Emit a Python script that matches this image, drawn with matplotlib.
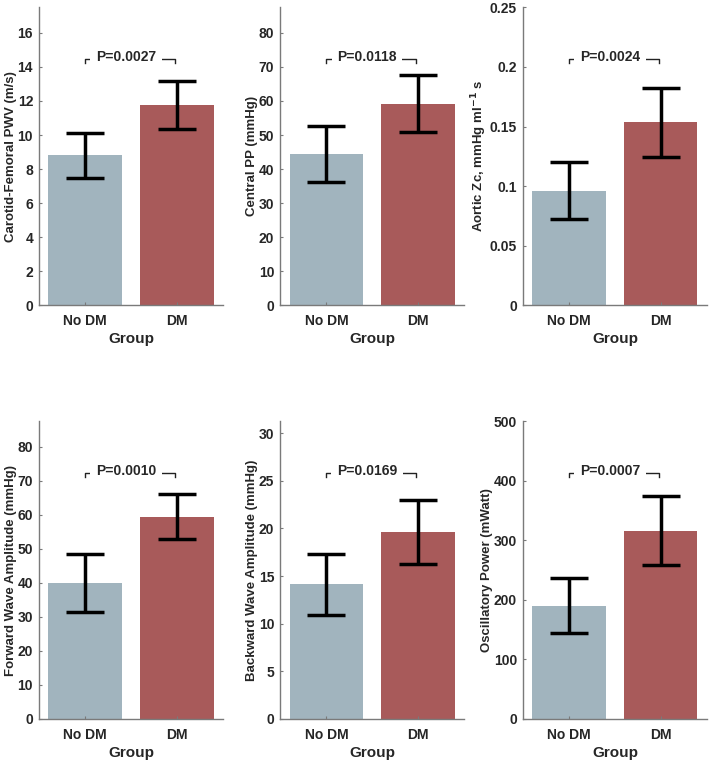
import numpy as np
import matplotlib.pyplot as plt

plt.rcParams['font.family'] = ['Liberation Sans', 'DejaVu Sans']
plt.rcParams['font.weight'] = 'bold'

groups = ['No DM', 'DM']
barColors = ['#A1B4BE', '#A85A5A']

ylabels = ['Carotid-Femoral PWV (m/s)', 'Central PP (mmHg)', 'Aortic Zc, mmHg ml$^{\\mathbf{-1}}$ s',
           'Forward Wave Amplitude (mmHg)', 'Backward Wave Amplitude (mmHg)', 'Oscillatory Power (mWatt)']

pwvMean = [8.8, 11.75]
pwvErr = [1.33, 1.4]
ppMean = [44.4, 59.2]
ppErr = [8.2, 8.35]
zcMean = [0.096, 0.1535]
zcErr = [0.024, 0.029]
fwdMean = [40.0, 59.4]
fwdErr = [8.5, 6.6]
bwdMean = [14.15, 19.6]
bwdErr = [3.2, 3.35]
powMean = [190, 316]
powErr = [46, 58]

means = [pwvMean, ppMean, zcMean, fwdMean, bwdMean, powMean]
errs = [pwvErr, ppErr, zcErr, fwdErr, bwdErr, powErr]
pValues = ['P=0.0027', 'P=0.0118', 'P=0.0024', 'P=0.0010', 'P=0.0169', 'P=0.0007']
yTops = [17.5, 87.5, 0.25, 87.5, 31.25, 500]
yTicks = [np.arange(0, 17, 2), np.arange(0, 81, 10), [0, 0.05, 0.1, 0.15, 0.2, 0.25],
          np.arange(0, 81, 10), np.arange(0, 31, 5), np.arange(0, 501, 100)]
yTickLabels = [None, None, ['0', '0.05', '0.1', '0.15', '0.2', '0.25'], None, None, None]

fig = plt.figure(figsize=(7.09, 7.63), dpi=100)
lefts = [0.0554, 0.3956, 0.738]
bottoms = [0.600, 0.0577]
w, h = 0.2587, 0.3903

textColor = '#262626'
x = np.array([1, 2])
for i in range(6):
    row, col = divmod(i, 3)
    ax = fig.add_axes([lefts[col], bottoms[row], w, h])
    ax.bar(x, means[i], width=0.8, color=barColors, edgecolor='none')
    ax.errorbar(x, means[i], yerr=errs[i], fmt='none', ecolor='black',
                elinewidth=2.5, capsize=13.4, capthick=2.5)
    top = yTops[i]
    ax.set_xlim(0.5, 2.5)
    ax.set_ylim(0, top)
    ax.set_yticks(yTicks[i])
    if yTickLabels[i] is not None:
        ax.set_yticklabels(yTickLabels[i])
    ax.set_xticks(x)
    ax.set_xticklabels(groups)
    ax.tick_params(direction='in', length=2.5, width=0.8, color='#7a7a7a',
                   labelsize=10, labelcolor=textColor)
    ax.tick_params(axis='x', pad=6.5)
    ax.tick_params(axis='y', pad=4.5)
    for lab in ax.get_xticklabels() + ax.get_yticklabels():
        lab.set_fontweight('bold')
    ax.set_xlabel('Group', fontsize=11, fontweight='bold', color=textColor, labelpad=3)
    ax.set_ylabel(ylabels[i], fontsize=9.5, fontweight='bold', color=textColor, labelpad=0.5)
    for s in ['top', 'right']:
        ax.spines[s].set_visible(False)
    for s in ['left', 'bottom']:
        ax.spines[s].set_color('#7a7a7a')
        ax.spines[s].set_linewidth(1.0)

    # significance bracket
    yb = top * 0.826
    dy = top * 0.013
    ax.plot([1, 1, 1.98, 1.98], [yb - dy, yb, yb, yb - dy], color='#222222', lw=1.0)
    ax.text(1.445, yb - top * 0.006, pValues[i], ha='center', va='baseline', fontsize=10,
            fontweight='bold', color=textColor,
            bbox=dict(facecolor='white', edgecolor='none', pad=4))

fig.savefig('out.png', dpi=100)
